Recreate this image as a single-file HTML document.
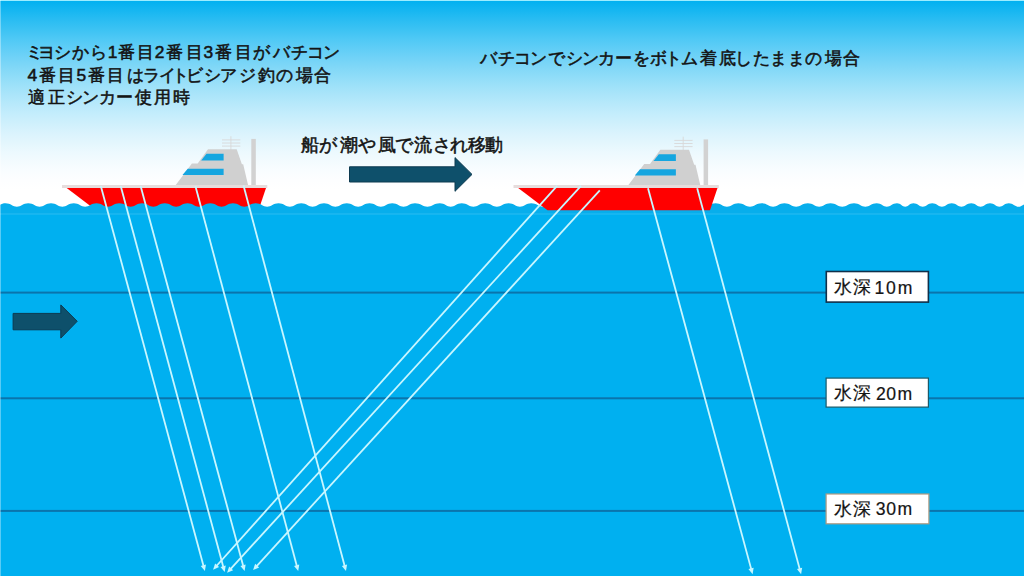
<!DOCTYPE html>
<html><head><meta charset="utf-8"><style>
html,body{margin:0;padding:0;width:1024px;height:576px;overflow:hidden;background:#fff}
span{position:absolute;white-space:nowrap;font-family:"Liberation Sans",sans-serif;color:#141414;-webkit-text-stroke:0.55px #141414}
span.lb{-webkit-text-stroke:0.2px #141414}
</style></head><body>
<svg width="1024" height="576" viewBox="0 0 1024 576" style="position:absolute;left:0;top:0">
<defs><linearGradient id="sky" gradientUnits="userSpaceOnUse" x1="0" y1="0" x2="0" y2="190"><stop offset="0.000" stop-color="rgb(0,176,240)"/><stop offset="0.050" stop-color="rgb(20,182,241)"/><stop offset="0.100" stop-color="rgb(40,188,242)"/><stop offset="0.150" stop-color="rgb(58,194,243)"/><stop offset="0.200" stop-color="rgb(77,200,245)"/><stop offset="0.250" stop-color="rgb(94,205,246)"/><stop offset="0.300" stop-color="rgb(111,210,247)"/><stop offset="0.350" stop-color="rgb(127,215,247)"/><stop offset="0.400" stop-color="rgb(142,220,248)"/><stop offset="0.450" stop-color="rgb(157,225,249)"/><stop offset="0.500" stop-color="rgb(171,229,250)"/><stop offset="0.550" stop-color="rgb(184,233,251)"/><stop offset="0.600" stop-color="rgb(196,237,252)"/><stop offset="0.650" stop-color="rgb(207,240,252)"/><stop offset="0.700" stop-color="rgb(218,243,253)"/><stop offset="0.750" stop-color="rgb(227,246,253)"/><stop offset="0.800" stop-color="rgb(236,249,254)"/><stop offset="0.850" stop-color="rgb(243,251,254)"/><stop offset="0.900" stop-color="rgb(249,253,255)"/><stop offset="0.950" stop-color="rgb(253,254,255)"/><stop offset="1.000" stop-color="rgb(255,255,255)"/></linearGradient></defs>
<rect x="0" y="0" width="1024" height="192" fill="url(#sky)"/>
<rect x="0" y="190" width="1024" height="30" fill="#ffffff"/>
<g stroke="#d8d8d8" stroke-width="0.9" fill="none">
<line x1="230.9" y1="136.2" x2="230.9" y2="150"/>
<line x1="222" y1="139.9" x2="240.3" y2="139.9"/>
<line x1="222" y1="143.0" x2="240.3" y2="143.0"/>
<line x1="222" y1="146.1" x2="240.3" y2="146.1"/>
</g>
<rect x="251.3" y="138.9" width="4.5" height="47.099999999999994" fill="#d2d2d2"/>
<polygon fill="#d0d0d0" points="208.00,149.30 236.70,149.30 241.90,164.20 243.20,164.20 248.30,186.00 175.00,186.00 191.90,163.60 197.70,163.60"/>
<polygon fill="#15a6e0" points="206.50,153.80 223.60,153.80 223.60,160.40 201.20,160.40"/>
<polygon fill="#15a6e0" points="187.70,168.80 223.60,168.80 223.60,175.00 182.50,175.00"/>
<polygon fill="#ff0000" points="66.70,188.00 266.00,188.00 258.50,210.20 96.00,210.20"/>
<rect x="62" y="185" width="205.3" height="3" fill="#e6dcdc"/>
<g stroke="#d8d8d8" stroke-width="0.9" fill="none">
<line x1="683.2" y1="136.7" x2="683.2" y2="150.5"/>
<line x1="674.3" y1="140.4" x2="692.6" y2="140.4"/>
<line x1="674.3" y1="143.5" x2="692.6" y2="143.5"/>
<line x1="674.3" y1="146.6" x2="692.6" y2="146.6"/>
</g>
<rect x="703.6" y="139.4" width="4.5" height="47.099999999999994" fill="#d2d2d2"/>
<polygon fill="#d0d0d0" points="660.30,149.80 689.00,149.80 694.20,164.70 695.50,164.70 700.60,186.50 627.30,186.50 644.20,164.10 650.00,164.10"/>
<polygon fill="#15a6e0" points="658.80,154.30 675.90,154.30 675.90,160.90 653.50,160.90"/>
<polygon fill="#15a6e0" points="640.00,169.30 675.90,169.30 675.90,175.50 634.80,175.50"/>
<path d="M-2,207.3 L-28.62,206.8 C-24.64,206.8 -22.37,203.3 -17.25,203.3 C-12.13,203.3 -9.86,206.8 -5.88,206.8 C-1.89,206.8 0.38,203.3 5.50,203.3 C10.62,203.3 12.89,206.8 16.88,206.8 C20.86,206.8 23.13,203.3 28.25,203.3 C33.37,203.3 35.64,206.8 39.62,206.8 C43.61,206.8 45.88,203.3 51.00,203.3 C56.12,203.3 58.39,206.8 62.38,206.8 C66.36,206.8 68.63,203.3 73.75,203.3 C78.87,203.3 81.14,206.8 85.12,206.8 C89.11,206.8 91.38,203.3 96.50,203.3 C101.62,203.3 103.89,206.8 107.88,206.8 C111.86,206.8 114.13,203.3 119.25,203.3 C124.37,203.3 126.64,206.8 130.62,206.8 C134.61,206.8 136.88,203.3 142.00,203.3 C147.12,203.3 149.39,206.8 153.38,206.8 C157.36,206.8 159.63,203.3 164.75,203.3 C169.87,203.3 172.14,206.8 176.12,206.8 C180.11,206.8 182.38,203.3 187.50,203.3 C192.62,203.3 194.89,206.8 198.88,206.8 C202.86,206.8 205.13,203.3 210.25,203.3 C215.37,203.3 217.64,206.8 221.62,206.8 C225.61,206.8 227.88,203.3 233.00,203.3 C238.12,203.3 240.39,206.8 244.38,206.8 C248.36,206.8 250.63,203.3 255.75,203.3 C260.87,203.3 263.14,206.8 267.12,206.8 C271.11,206.8 273.38,203.3 278.50,203.3 C283.62,203.3 285.89,206.8 289.88,206.8 C293.86,206.8 296.13,203.3 301.25,203.3 C306.37,203.3 308.64,206.8 312.62,206.8 C316.61,206.8 318.88,203.3 324.00,203.3 C329.12,203.3 331.39,206.8 335.38,206.8 C339.36,206.8 341.63,203.3 346.75,203.3 C351.87,203.3 354.14,206.8 358.12,206.8 C362.11,206.8 364.38,203.3 369.50,203.3 C374.62,203.3 376.89,206.8 380.88,206.8 C384.86,206.8 387.13,203.3 392.25,203.3 C397.37,203.3 399.64,206.8 403.62,206.8 C407.61,206.8 409.88,203.3 415.00,203.3 C420.58,203.3 423.06,206.8 427.40,206.8 C431.74,206.8 434.22,203.3 439.80,203.3 C444.73,203.3 446.92,206.8 450.75,206.8 C454.58,206.8 456.77,203.3 461.70,203.3 C466.99,203.3 469.34,206.8 473.45,206.8 C477.56,206.8 479.91,203.3 485.20,203.3 C490.46,203.3 492.81,206.8 496.90,206.8 C501.00,206.8 503.33,203.3 508.60,203.3 C513.70,203.3 515.96,206.8 519.92,206.8 C523.89,206.8 526.15,203.3 531.25,203.3 C536.48,203.3 538.81,206.8 542.88,206.8 C546.94,206.8 549.27,203.3 554.50,203.3 C559.67,203.3 561.98,206.8 566.00,206.8 C570.02,206.8 572.33,203.3 577.50,203.3 C582.67,203.3 584.98,206.8 589.00,206.8 C593.02,206.8 595.33,203.3 600.50,203.3 C605.67,203.3 607.98,206.8 612.00,206.8 C616.02,206.8 618.33,203.3 623.50,203.3 C628.67,203.3 630.98,206.8 635.00,206.8 C639.02,206.8 641.33,203.3 646.50,203.3 C651.67,203.3 653.98,206.8 658.00,206.8 C662.02,206.8 664.33,203.3 669.50,203.3 C674.67,203.3 676.98,206.8 681.00,206.8 C685.02,206.8 687.33,203.3 692.50,203.3 C697.70,203.3 700.01,206.8 704.05,206.8 C708.09,206.8 710.40,203.3 715.60,203.3 C720.71,203.3 722.98,206.8 726.95,206.8 C730.92,206.8 733.19,203.3 738.30,203.3 C743.56,203.3 745.90,206.8 750.00,206.8 C754.10,206.8 756.44,203.3 761.70,203.3 C766.81,203.3 769.08,206.8 773.05,206.8 C777.02,206.8 779.29,203.3 784.40,203.3 C789.66,203.3 792.00,206.8 796.10,206.8 C800.19,206.8 802.53,203.3 807.80,203.3 C812.91,203.3 815.18,206.8 819.15,206.8 C823.12,206.8 825.39,203.3 830.50,203.3 C835.79,203.3 838.14,206.8 842.25,206.8 C846.36,206.8 848.71,203.3 854.00,203.3 C859.11,203.3 861.38,206.8 865.35,206.8 C869.32,206.8 871.59,203.3 876.70,203.3 C881.27,203.3 883.30,206.8 886.85,206.8 C890.40,206.8 892.43,203.3 897.00,203.3 C900.69,203.3 902.33,206.8 905.20,206.8 C908.07,206.8 909.71,203.3 913.40,203.3 C917.63,203.3 919.51,206.8 922.80,206.8 C926.09,206.8 927.97,203.3 932.20,203.3 C936.59,203.3 938.54,206.8 941.95,206.8 C945.36,206.8 947.31,203.3 951.70,203.3 C956.10,203.3 958.05,206.8 961.48,206.8 C964.90,206.8 966.85,203.3 971.25,203.3 C975.47,203.3 977.34,206.8 980.62,206.8 C983.91,206.8 985.78,203.3 990.00,203.3 C994.23,203.3 996.11,206.8 999.40,206.8 C1002.69,206.8 1004.57,203.3 1008.80,203.3 C1013.12,203.3 1015.04,206.8 1018.40,206.8 C1021.76,206.8 1023.68,203.3 1028.00,203.3 C1033.12,203.3 1035.39,206.8 1039.38,206.8 L1030,206.8 L1030,216 L-2,216 Z" fill="#07aeec"/>
<rect x="0" y="214" width="1024" height="362" fill="#00b0f0"/>
<rect x="0" y="213.5" width="1024" height="1" fill="#2abbf2"/>
<polygon fill="#ff0000" points="518.20,188.00 717.50,188.00 710.00,210.20 547.50,210.20"/>
<rect x="513.5" y="185" width="205.3" height="3" fill="#e6dcdc"/>
<rect x="0" y="291.6" width="1024" height="2" fill="#0a74ac"/>
<rect x="0" y="397.3" width="1024" height="2" fill="#0a74ac"/>
<rect x="0" y="509.9" width="1024" height="2" fill="#0a74ac"/>
<polygon fill="#0e506b" stroke="#0d3a50" stroke-width="1" points="349.5,166.8 455,166.8 455,157.6 472,174.4 455,191.3 455,182 349.5,182"/>
<polygon fill="#0e506b" stroke="#0d3a50" stroke-width="1" points="13.1,313.4 60.8,313.4 60.8,304.9 77.2,321.3 60.8,338.1 60.8,329.8 13.1,329.8"/>
<line x1="100.8" y1="186" x2="203.60" y2="566.27" stroke="#c8f6ff" stroke-width="1.8"/><polygon points="204.90,571.10 200.73,566.01 205.94,564.60" fill="#c8f6ff"/>
<line x1="120.7" y1="186" x2="223.40" y2="567.27" stroke="#c8f6ff" stroke-width="1.8"/><polygon points="224.70,572.10 220.53,567.01 225.75,565.60" fill="#c8f6ff"/>
<line x1="140.6" y1="186" x2="243.30" y2="566.27" stroke="#c8f6ff" stroke-width="1.8"/><polygon points="244.60,571.10 240.43,566.01 245.64,564.60" fill="#c8f6ff"/>
<line x1="195.4" y1="186" x2="296.91" y2="566.27" stroke="#c8f6ff" stroke-width="1.8"/><polygon points="298.20,571.10 294.04,566.00 299.26,564.61" fill="#c8f6ff"/>
<line x1="243.5" y1="185.5" x2="344.72" y2="566.27" stroke="#c8f6ff" stroke-width="1.8"/><polygon points="346.00,571.10 341.85,565.99 347.07,564.61" fill="#c8f6ff"/>
<line x1="557.1" y1="185.9" x2="216.44" y2="565.98" stroke="#c8f6ff" stroke-width="1.8"/><polygon points="213.10,569.70 215.09,563.43 219.12,567.03" fill="#c8f6ff"/>
<line x1="581" y1="185.9" x2="230.47" y2="569.11" stroke="#c8f6ff" stroke-width="1.8"/><polygon points="227.10,572.80 229.16,566.55 233.14,570.20" fill="#c8f6ff"/>
<line x1="599.8" y1="190.3" x2="256.47" y2="566.41" stroke="#c8f6ff" stroke-width="1.8"/><polygon points="253.10,570.10 255.15,563.85 259.14,567.49" fill="#c8f6ff"/>
<line x1="648" y1="188.2" x2="751.29" y2="569.37" stroke="#c8f6ff" stroke-width="1.8"/><polygon points="752.60,574.20 748.42,569.12 753.64,567.70" fill="#c8f6ff"/>
<line x1="697.2" y1="188.2" x2="799.80" y2="569.37" stroke="#c8f6ff" stroke-width="1.8"/><polygon points="801.10,574.20 796.93,569.11 802.15,567.70" fill="#c8f6ff"/>
<rect x="826.3" y="271.5" width="102.10000000000005" height="30.599999999999987" fill="#ffffff" stroke="#10304a" stroke-width="1.6"/>
<rect x="826.1" y="378.1" width="102.3" height="28.99999999999999" fill="#ffffff" stroke="#1b5a6a" stroke-width="1.2"/>
<rect x="826.1" y="494.0" width="102.8" height="29.8" fill="#ffffff" stroke="#b09a80" stroke-width="1.2"/>
<rect x="0" y="0" width="1024" height="1" fill="#9cecff"/>
<rect x="0" y="0" width="1" height="576" fill="#ffffff" fill-opacity="0.35"/>
</svg>
<span style="left:25.80px;top:43.95px;font-size:17.4px;line-height:17.4px">ミ</span>
<span style="left:37.75px;top:43.95px;font-size:17.4px;line-height:17.4px">ヨ</span>
<span style="left:53.88px;top:43.95px;font-size:17.4px;line-height:17.4px">シ</span>
<span style="left:72.20px;top:43.95px;font-size:17.4px;line-height:17.4px">か</span>
<span style="left:89.75px;top:43.95px;font-size:17.4px;line-height:17.4px">ら</span>
<span style="left:107.85px;top:43.95px;font-size:17.4px;line-height:17.4px">1</span>
<span style="left:117.72px;top:43.95px;font-size:17.4px;line-height:17.4px">番</span>
<span style="left:136.90px;top:43.95px;font-size:17.4px;line-height:17.4px">目</span>
<span style="left:154.80px;top:43.95px;font-size:17.4px;line-height:17.4px">2</span>
<span style="left:166.20px;top:43.95px;font-size:17.4px;line-height:17.4px">番</span>
<span style="left:185.50px;top:43.95px;font-size:17.4px;line-height:17.4px">目</span>
<span style="left:203.40px;top:43.95px;font-size:17.4px;line-height:17.4px">3</span>
<span style="left:215.05px;top:43.95px;font-size:17.4px;line-height:17.4px">番</span>
<span style="left:234.90px;top:43.95px;font-size:17.4px;line-height:17.4px">目</span>
<span style="left:252.95px;top:43.95px;font-size:17.4px;line-height:17.4px">が</span>
<span style="left:272.85px;top:43.95px;font-size:17.4px;line-height:17.4px">バ</span>
<span style="left:290.60px;top:43.95px;font-size:17.4px;line-height:17.4px">チ</span>
<span style="left:307.10px;top:43.95px;font-size:17.4px;line-height:17.4px">コ</span>
<span style="left:323.00px;top:43.95px;font-size:17.4px;line-height:17.4px">ン</span>
<span style="left:27.50px;top:67.15px;font-size:17.4px;line-height:17.4px">4</span>
<span style="left:39.30px;top:67.15px;font-size:17.4px;line-height:17.4px">番</span>
<span style="left:58.35px;top:67.15px;font-size:17.4px;line-height:17.4px">目</span>
<span style="left:76.40px;top:67.15px;font-size:17.4px;line-height:17.4px">5</span>
<span style="left:87.65px;top:67.15px;font-size:17.4px;line-height:17.4px">番</span>
<span style="left:107.20px;top:67.15px;font-size:17.4px;line-height:17.4px">目</span>
<span style="left:126.70px;top:67.15px;font-size:17.4px;line-height:17.4px">は</span>
<span style="left:143.20px;top:67.15px;font-size:17.4px;line-height:17.4px">ラ</span>
<span style="left:159.32px;top:67.15px;font-size:17.4px;line-height:17.4px">イ</span>
<span style="left:172.47px;top:67.15px;font-size:17.4px;line-height:17.4px">ト</span>
<span style="left:186.05px;top:67.15px;font-size:17.4px;line-height:17.4px">ビ</span>
<span style="left:203.90px;top:67.15px;font-size:17.4px;line-height:17.4px">シ</span>
<span style="left:220.15px;top:67.15px;font-size:17.4px;line-height:17.4px">ア</span>
<span style="left:238.70px;top:67.15px;font-size:17.4px;line-height:17.4px">ジ</span>
<span style="left:257.70px;top:67.15px;font-size:17.4px;line-height:17.4px">釣</span>
<span style="left:276.30px;top:67.15px;font-size:17.4px;line-height:17.4px">の</span>
<span style="left:296.10px;top:67.15px;font-size:17.4px;line-height:17.4px">場</span>
<span style="left:314.45px;top:67.15px;font-size:17.4px;line-height:17.4px">合</span>
<span style="left:28.30px;top:89.25px;font-size:17.4px;line-height:17.4px">適</span>
<span style="left:47.60px;top:89.25px;font-size:17.4px;line-height:17.4px">正</span>
<span style="left:66.10px;top:89.25px;font-size:17.4px;line-height:17.4px">シ</span>
<span style="left:82.45px;top:89.25px;font-size:17.4px;line-height:17.4px">ン</span>
<span style="left:98.50px;top:89.25px;font-size:17.4px;line-height:17.4px">カ</span>
<span style="left:116.25px;top:89.25px;font-size:17.4px;line-height:17.4px">ー</span>
<span style="left:135.45px;top:89.25px;font-size:17.4px;line-height:17.4px">使</span>
<span style="left:153.65px;top:89.25px;font-size:17.4px;line-height:17.4px">用</span>
<span style="left:173.15px;top:89.25px;font-size:17.4px;line-height:17.4px">時</span>
<span style="left:480.20px;top:50.40px;font-size:17.3px;line-height:17.3px">バ</span>
<span style="left:498.00px;top:50.40px;font-size:17.3px;line-height:17.3px">チ</span>
<span style="left:514.35px;top:50.40px;font-size:17.3px;line-height:17.3px">コ</span>
<span style="left:530.00px;top:50.40px;font-size:17.3px;line-height:17.3px">ン</span>
<span style="left:548.05px;top:50.40px;font-size:17.3px;line-height:17.3px">で</span>
<span style="left:565.75px;top:50.40px;font-size:17.3px;line-height:17.3px">シ</span>
<span style="left:581.50px;top:50.40px;font-size:17.3px;line-height:17.3px">ン</span>
<span style="left:598.15px;top:50.40px;font-size:17.3px;line-height:17.3px">カ</span>
<span style="left:614.95px;top:50.40px;font-size:17.3px;line-height:17.3px">ー</span>
<span style="left:632.55px;top:50.40px;font-size:17.3px;line-height:17.3px">を</span>
<span style="left:649.95px;top:50.40px;font-size:17.3px;line-height:17.3px">ボ</span>
<span style="left:664.55px;top:50.40px;font-size:17.3px;line-height:17.3px">ト</span>
<span style="left:680.90px;top:50.40px;font-size:17.3px;line-height:17.3px">ム</span>
<span style="left:700.00px;top:50.40px;font-size:17.3px;line-height:17.3px">着</span>
<span style="left:719.25px;top:50.40px;font-size:17.3px;line-height:17.3px">底</span>
<span style="left:735.05px;top:50.40px;font-size:17.3px;line-height:17.3px">し</span>
<span style="left:752.80px;top:50.40px;font-size:17.3px;line-height:17.3px">た</span>
<span style="left:770.40px;top:50.40px;font-size:17.3px;line-height:17.3px">ま</span>
<span style="left:788.30px;top:50.40px;font-size:17.3px;line-height:17.3px">ま</span>
<span style="left:805.35px;top:50.40px;font-size:17.3px;line-height:17.3px">の</span>
<span style="left:824.90px;top:50.40px;font-size:17.3px;line-height:17.3px">場</span>
<span style="left:842.85px;top:50.40px;font-size:17.3px;line-height:17.3px">合</span>
<span style="left:300.50px;top:135.65px;font-size:18.0px;line-height:18.0px">船</span>
<span style="left:319.05px;top:135.65px;font-size:18.0px;line-height:18.0px">が</span>
<span style="left:339.70px;top:135.65px;font-size:18.0px;line-height:18.0px">潮</span>
<span style="left:358.20px;top:135.65px;font-size:18.0px;line-height:18.0px">や</span>
<span style="left:377.55px;top:135.65px;font-size:18.0px;line-height:18.0px">風</span>
<span style="left:395.45px;top:135.65px;font-size:18.0px;line-height:18.0px">で</span>
<span style="left:414.10px;top:135.65px;font-size:18.0px;line-height:18.0px">流</span>
<span style="left:432.85px;top:135.65px;font-size:18.0px;line-height:18.0px">さ</span>
<span style="left:449.55px;top:135.65px;font-size:18.0px;line-height:18.0px">れ</span>
<span style="left:467.75px;top:135.65px;font-size:18.0px;line-height:18.0px">移</span>
<span style="left:485.25px;top:135.65px;font-size:18.0px;line-height:18.0px">動</span>
<span class="lb" style="left:833.90px;top:279.00px;font-size:17.6px;line-height:17.6px">水</span>
<span class="lb" style="left:853.40px;top:279.00px;font-size:17.6px;line-height:17.6px">深</span>
<span class="lb" style="left:874.55px;top:279.90px;font-size:17.6px;line-height:17.6px">1</span>
<span class="lb" style="left:885.90px;top:279.90px;font-size:17.6px;line-height:17.6px">0</span>
<span class="lb" style="left:897.70px;top:279.90px;font-size:17.6px;line-height:17.6px">m</span>
<span class="lb" style="left:833.90px;top:384.70px;font-size:17.6px;line-height:17.6px">水</span>
<span class="lb" style="left:853.40px;top:384.70px;font-size:17.6px;line-height:17.6px">深</span>
<span class="lb" style="left:875.90px;top:385.60px;font-size:17.6px;line-height:17.6px">2</span>
<span class="lb" style="left:886.30px;top:385.60px;font-size:17.6px;line-height:17.6px">0</span>
<span class="lb" style="left:897.60px;top:385.60px;font-size:17.6px;line-height:17.6px">m</span>
<span class="lb" style="left:833.90px;top:500.50px;font-size:17.6px;line-height:17.6px">水</span>
<span class="lb" style="left:853.40px;top:500.50px;font-size:17.6px;line-height:17.6px">深</span>
<span class="lb" style="left:875.75px;top:501.40px;font-size:17.6px;line-height:17.6px">3</span>
<span class="lb" style="left:886.30px;top:501.40px;font-size:17.6px;line-height:17.6px">0</span>
<span class="lb" style="left:897.40px;top:501.40px;font-size:17.6px;line-height:17.6px">m</span>
</body></html>
